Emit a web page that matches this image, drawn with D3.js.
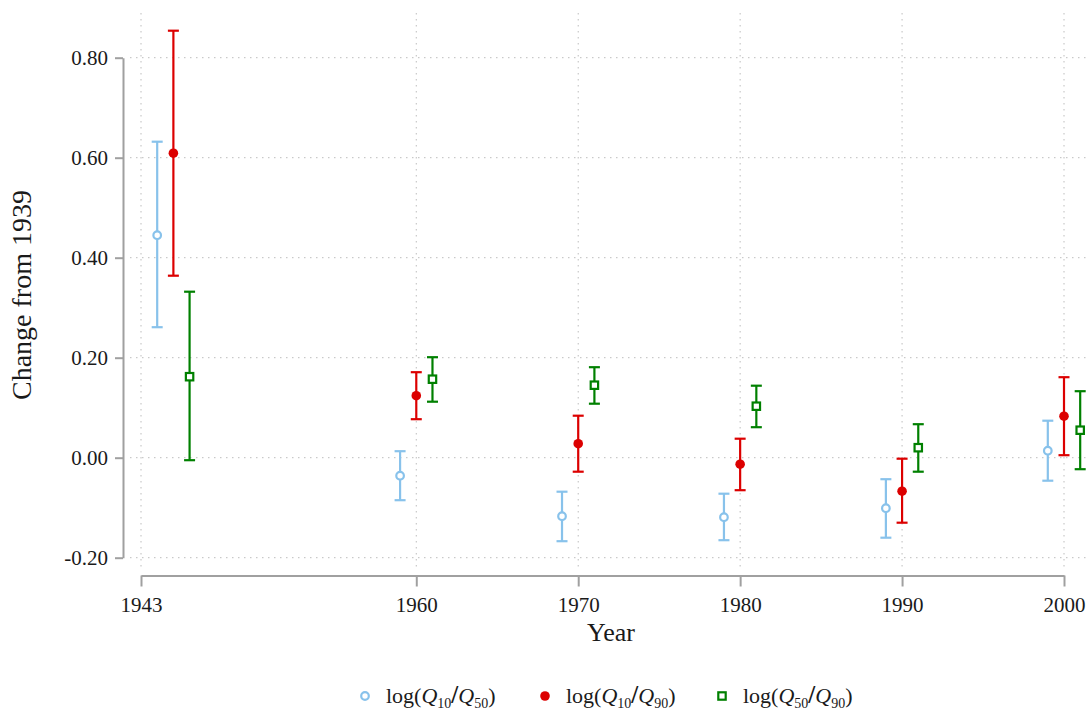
<!DOCTYPE html>
<html>
<head>
<meta charset="utf-8">
<script src="https://cdn.jsdelivr.net/npm/d3@7"></script>
<style>
  body { margin:0; background:#fff; }
  svg text { font-family:"Liberation Serif","DejaVu Serif",serif; fill:#1a1a1a; }
  .grid line { stroke:#bdbdbd; stroke-width:1; stroke-dasharray:1.5,4.5; }
  .axis path, .axis line { stroke:#a0a0a0; stroke-width:2; }
</style>
</head>
<body>
<script>
// x ticks and y ticks
var xTicks = [1943,1960,1970,1980,1990,2000];
var yTicks = [-0.2,0,0.2,0.4,0.6,0.8];

// years where each series is plotted (series are dodged by one year)
var yearsQ1050 = [1944,1959,1969,1979,1989,1999];
var yearsQ1090 = [1945,1960,1970,1980,1990,2000];
var yearsQ5090 = [1946,1961,1971,1981,1991,2001];

// log(Q10/Q50)
var estQ1050 = [0.445,-0.036,-0.117,-0.119,-0.101,0.014];
var loQ1050  = [0.261,-0.085,-0.167,-0.165,-0.160,-0.046];
var hiQ1050  = [0.632,0.013,-0.068,-0.072,-0.043,0.074];
// log(Q10/Q90)
var estQ1090 = [0.609,0.124,0.028,-0.013,-0.067,0.083];
var loQ1090  = [0.364,0.077,-0.028,-0.065,-0.130,0.005];
var hiQ1090  = [0.854,0.171,0.084,0.038,-0.002,0.161];
// log(Q50/Q90)
var estQ5090 = [0.162,0.157,0.145,0.103,0.020,0.055];
var loQ5090  = [-0.005,0.112,0.108,0.061,-0.028,-0.023];
var hiQ5090  = [0.332,0.201,0.181,0.144,0.067,0.133];

var series = [
  {sub1:'10',sub2:'50',color:'#88c2eb',shape:'circle',fill:false,years:yearsQ1050,est:estQ1050,lo:loQ1050,hi:hiQ1050},
  {sub1:'10',sub2:'90',color:'#dc0000',shape:'circle',fill:true,years:yearsQ1090,est:estQ1090,lo:loQ1090,hi:hiQ1090},
  {sub1:'50',sub2:'90',color:'#008000',shape:'square',fill:false,years:yearsQ5090,est:estQ5090,lo:loQ5090,hi:hiQ5090}
];

var W = 1091, H = 717;
var svg = d3.select('body').append('svg').attr('width',W).attr('height',H);

var xScale = d3.scaleLinear().domain([1943,2000]).range([141,1064]);
var yScale = d3.scaleLinear().domain([-0.2,0.8]).range([557.7,57.7]);

//grid
var grid = svg.append('g').attr('class','grid');
grid.selectAll('line.h').data(yTicks).enter().append('line').attr('class','h')
  .attr('x1',130).attr('x2',1088)
  .attr('y1',function(d){return yScale(d);}).attr('y2',function(d){return yScale(d);});
grid.selectAll('line.v').data(xTicks).enter().append('line').attr('class','v')
  .attr('x1',function(d){return xScale(d);}).attr('x2',function(d){return xScale(d);})
  .attr('y1',13).attr('y2',568);

//axes
var yAxis = d3.axisLeft(yScale).tickValues(yTicks).tickSize(8).tickSizeOuter(0).tickPadding(7)
  .tickFormat(function(d){return d.toFixed(2);});
var yg = svg.append('g').attr('class','axis').attr('transform','translate(123,0)').call(yAxis);
yg.selectAll('text').style('font-size','21px').attr('fill','#1a1a1a');

var xAxis = d3.axisBottom(xScale).tickValues(xTicks).tickSize(11).tickSizeOuter(0)
  .tickFormat(d3.format('d'));
var xg = svg.append('g').attr('class','axis').attr('transform','translate(0,575.5)').call(xAxis);
xg.selectAll('text').style('font-size','21px').attr('fill','#1a1a1a').attr('y',36).attr('dy',0);

//axis titles
svg.append('text').attr('transform','translate(31,295) rotate(-90)')
  .attr('text-anchor','middle').style('font-size','28px').text('Change from 1939');
svg.append('text').attr('x',611).attr('y',641)
  .attr('text-anchor','middle').style('font-size','26px').text('Year');

//error bars and markers
function drawMarker(g,s,cx,cy){
  if(s.shape=='circle'){
    g.append('circle').attr('cx',cx).attr('cy',cy)
      .attr('r',s.fill?4.8:3.8)
      .attr('fill',s.fill?s.color:'#fff')
      .attr('stroke',s.color).attr('stroke-width',s.fill?0:2.2);
  }else{
    g.append('rect').attr('x',cx-3.7).attr('y',cy-3.7)
      .attr('width',7.4).attr('height',7.4)
      .attr('fill','#fff').attr('stroke',s.color).attr('stroke-width',2.2);
  }
}

series.forEach(function(s){
  var g = svg.append('g');
  s.years.forEach(function(yr,i){
    var cx = xScale(yr);
    g.append('line').attr('x1',cx).attr('x2',cx)
      .attr('y1',yScale(s.hi[i])).attr('y2',yScale(s.lo[i]))
      .attr('stroke',s.color).attr('stroke-width',2.2);
    [s.hi[i],s.lo[i]].forEach(function(v){
      g.append('line').attr('x1',cx-5.5).attr('x2',cx+5.5)
        .attr('y1',yScale(v)).attr('y2',yScale(v))
        .attr('stroke',s.color).attr('stroke-width',2.2);
    });
    drawMarker(g,s,cx,yScale(s.est[i]));
  });
});

//legend
var legendX = [365,545,722];
series.forEach(function(s,i){
  var g = svg.append('g');
  drawMarker(g,s,legendX[i],696);
  var t = g.append('text').attr('x',legendX[i]+21).attr('y',703).style('font-size','22px');
  t.append('tspan').text('log(');
  t.append('tspan').style('font-style','italic').text('Q');
  t.append('tspan').attr('dy',5).style('font-size','14px').text(s.sub1);
  t.append('tspan').attr('dy',-5).style('font-size','25px').style('font-weight','bold').text('/');
  t.append('tspan').style('font-style','italic').text('Q');
  t.append('tspan').attr('dy',5).style('font-size','14px').text(s.sub2);
  t.append('tspan').attr('dy',-5).text(')');
});
</script>
</body>
</html>
